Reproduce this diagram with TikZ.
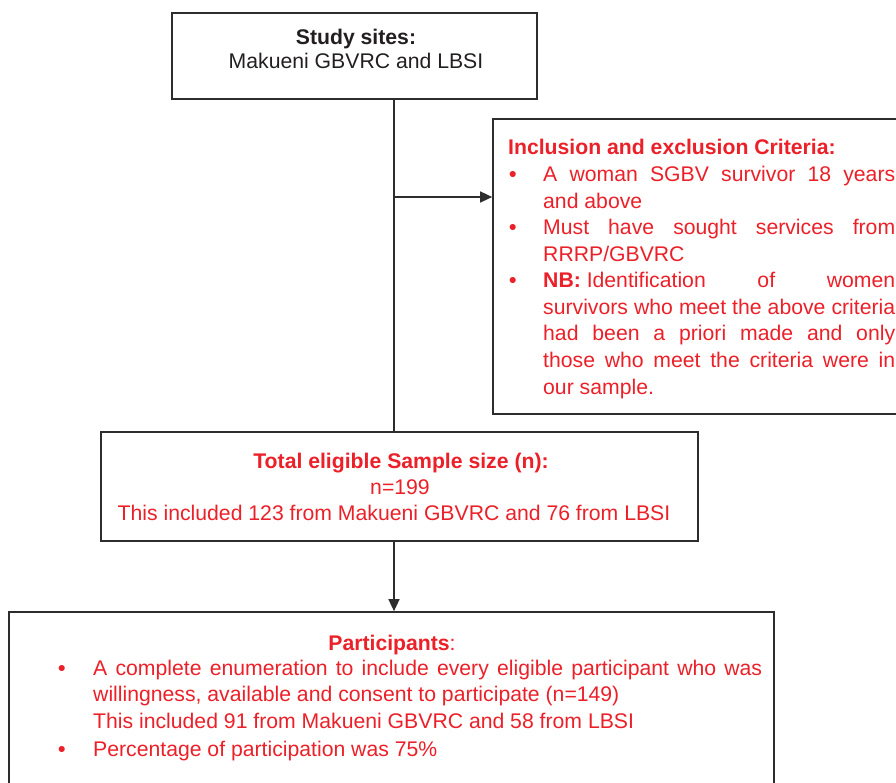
\documentclass[tikz,border=0pt]{standalone}
\usepackage{fontspec}
\setmainfont{Liberation Sans}
\usetikzlibrary{arrows.meta}
\definecolor{txtred}{RGB}{236,32,40}
\definecolor{txtblk}{RGB}{35,31,32}
\definecolor{edge}{RGB}{45,45,45}
\tikzset{
  box/.style={draw=edge, line width=1.7pt, inner sep=0pt, fill=white},
  conn/.style={draw=edge, line width=1.5pt},
  arr/.style={conn, -{Triangle[length=12pt,width=11pt]}},
  txt/.style={inner sep=0pt, font=\fontsize{21.2}{26.5}\selectfont, text=txtred},
  bul/.style={inner sep=0pt, font=\fontsize{21.2}{26.5}\selectfont, text=txtred, anchor=base west},
}
\hbadness=10000
\begin{document}
\begin{tikzpicture}[x=1pt,y=-1pt]
\useasboundingbox (0,0) rectangle (896,783);
\clip (0,0) rectangle (896,783);
% boxes
\node[box, minimum width=365pt, minimum height=86pt] (box1) at (354.5,56) {};
\node[box, minimum width=417pt, minimum height=295pt] (box3) at (701.5,266.5) {};
\node[box, minimum width=597pt, minimum height=109pt] (box2) at (399.5,486.5) {};
\node[box, minimum width=765pt, minimum height=200pt] (box4) at (391.5,712) {};
% box 1 text
\node[txt, text=txtblk, anchor=base] (t1a) at (356,45) {\textbf{Study sites:}};
\node[txt, text=txtblk, anchor=base] (t1b) at (356,69) {Makueni GBVRC and LBSI};
% box 3 text
\node[txt, anchor=base west] (t3a) at (508,155) {\textbf{Inclusion and exclusion Criteria:}};
\node[bul] (b3a) at (509,182) {\textbf{•}};
\node[txt, anchor=base west] (t3b) at (543,182) {\parbox[t]{352pt}{A woman SGBV survivor 18 years\linebreak and above}};
\node[bul] (b3b) at (509,235) {\textbf{•}};
\node[txt, anchor=base west] (t3c) at (543,235) {\parbox[t]{352pt}{Must have sought services from\linebreak RRRP/GBVRC}};
\node[bul] (b3c) at (509,288) {\textbf{•}};
\node[txt, anchor=base west] (t3d) at (543,288) {\parbox[t]{352pt}{\mbox{\textbf{NB:} Identification} of women\linebreak survivors who meet the above criteria\linebreak had been a priori made and only\linebreak those who meet the criteria were in\linebreak our sample.}};
% box 2 text
\node[txt, anchor=base] (t2a) at (401,468) {\textbf{Total eligible Sample size (n):}};
\node[txt, anchor=base] (t2b) at (400,494) {n=199};
\node[txt, anchor=base] (t2c) at (394,520.5) {This included 123 from Makueni GBVRC and 76 from LBSI};
% box 4 text
\node[txt, anchor=base] (t4a) at (392,650) {\textbf{Participants}:};
\node[bul] (b4a) at (58,675) {\textbf{•}};
\node[txt, anchor=base west] (t4b) at (93,675) {\parbox[t]{669pt}{A complete enumeration to include every eligible participant who was\linebreak willingness, available and consent to participate (n=149)\\ This included 91 from Makueni GBVRC and 58 from LBSI}};
\node[bul] (b4b) at (58,756) {\textbf{•}};
\node[txt, anchor=base west] (t4c) at (93,756) {Percentage of participation was 75\%};
% connectors
\coordinate (top) at (394,99);
\coordinate (j) at (394,197);
\draw[conn] (top) -- (top |- box2.north);
\draw[arr] (j) -- (j -| box3.west);
\draw[arr] (box2.south -| top) -- (box4.north -| top);
\end{tikzpicture}
\end{document}
